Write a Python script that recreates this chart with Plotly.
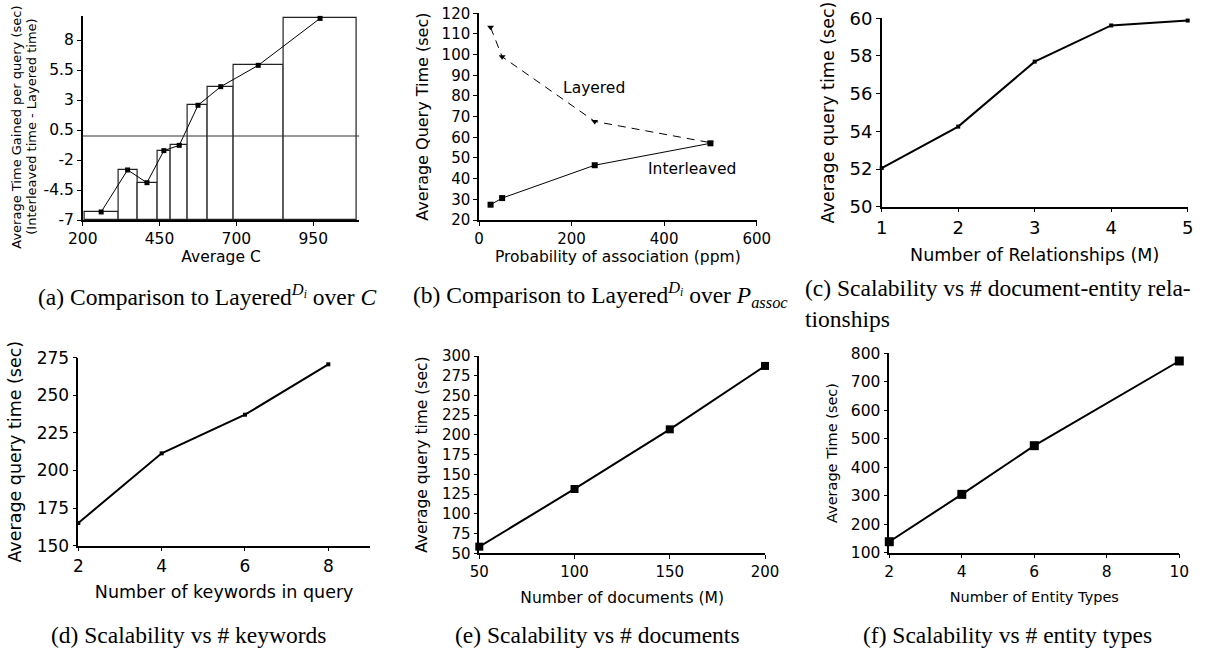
import plotly.graph_objects as go

W, H = 1208, 652

# ---------------- data ----------------
# (a) bins over Average C and time gained
a_edges = [205, 318, 378, 443, 486, 541, 607, 690, 854, 1090]
a_bar_vals = [-6.33, -2.83, -3.89, -1.22, -0.78, 2.56, 4.11, 5.89, 9.8]
a_pts_x = [260, 346, 409, 464, 514, 575, 649, 771, 972]
a_pts_y = [-6.33, -2.83, -3.89, -1.22, -0.78, 2.56, 4.11, 5.89, 9.8]
a_xticks = [200, 450, 700, 950]
a_yticks = [-7, -4.5, -2, 0.5, 3, 5.5, 8]
a_ytext = ["-7", "-4.5", "-2", "0.5", "3", "5.5", "8"]

# (b) probability of association
b_x = [25, 50, 250, 500]
b_layered = [113.2, 99.0, 67.7, 57.4]
b_interleaved = [27.4, 30.6, 46.5, 57.1]
b_xticks = [0, 200, 400, 600]
b_yticks = [20, 30, 40, 50, 60, 70, 80, 90, 100, 110, 120]

# (c) relationships
c_x = [1, 2, 3, 4, 5]
c_y = [52.05, 54.25, 57.7, 59.62, 59.88]
c_xticks = [1, 2, 3, 4, 5]
c_yticks = [50, 52, 54, 56, 58, 60]

# (d) keywords
d_x = [2, 4, 6, 8]
d_y = [165.1, 211.4, 237.1, 270.6]
d_xticks = [2, 4, 6, 8]
d_yticks = [150, 175, 200, 225, 250, 275]

# (e) documents
e_x = [50, 100, 150, 200]
e_y = [58.4, 131.5, 207.1, 287.4]
e_xticks = [50, 100, 150, 200]
e_yticks = [50, 75, 100, 125, 150, 175, 200, 225, 250, 275, 300]

# (f) entity types
f_x = [2, 4, 6, 10]
f_y = [138.6, 304.8, 475.7, 773.0]
f_xticks = [2, 4, 6, 8, 10]
f_yticks = [100, 200, 300, 400, 500, 600, 700, 800]

# ---------------- helpers ----------------
def dom_x(l, r):
    return [l / W, r / W]

def dom_y(b, t):
    return [1 - b / H, 1 - t / H]

SANS = "DejaVu Sans"
SERIF = "Liberation Serif"

fig = go.Figure()

# (a) bars
a_centers = [(a_edges[i] + a_edges[i + 1]) / 2 for i in range(len(a_bar_vals))]
a_widths = [a_edges[i + 1] - a_edges[i] for i in range(len(a_bar_vals))]
a_base = -7
fig.add_trace(go.Bar(
    x=a_centers, y=[v - a_base for v in a_bar_vals], base=a_base, width=a_widths,
    marker=dict(color="white", line=dict(color="#222222", width=1.2)),
    xaxis="x", yaxis="y", showlegend=False,
))
fig.add_trace(go.Scatter(
    x=a_pts_x, y=a_pts_y, mode="lines+markers",
    line=dict(color="black", width=1),
    marker=dict(symbol="square", size=5, color="black"),
    xaxis="x", yaxis="y", showlegend=False, cliponaxis=False,
))

# (b)
fig.add_trace(go.Scatter(
    x=b_x, y=b_layered, mode="lines+markers",
    line=dict(color="black", width=1, dash="8px,6px"),
    marker=dict(symbol="triangle-down", size=6, color="black"),
    xaxis="x2", yaxis="y2", showlegend=False, cliponaxis=False,
))
fig.add_trace(go.Scatter(
    x=b_x, y=b_interleaved, mode="lines+markers",
    line=dict(color="black", width=1),
    marker=dict(symbol="square", size=6, color="black"),
    xaxis="x2", yaxis="y2", showlegend=False, cliponaxis=False,
))

# (c)
fig.add_trace(go.Scatter(
    x=c_x, y=c_y, mode="lines+markers",
    line=dict(color="black", width=2),
    marker=dict(symbol="square", size=4, color="black"),
    xaxis="x3", yaxis="y3", showlegend=False, cliponaxis=False,
))
# (d)
fig.add_trace(go.Scatter(
    x=d_x, y=d_y, mode="lines+markers",
    line=dict(color="black", width=2),
    marker=dict(symbol="square", size=4, color="black"),
    xaxis="x4", yaxis="y4", showlegend=False, cliponaxis=False,
))
# (e)
fig.add_trace(go.Scatter(
    x=e_x, y=e_y, mode="lines+markers",
    line=dict(color="black", width=2),
    marker=dict(symbol="square", size=8, color="black"),
    xaxis="x5", yaxis="y5", showlegend=False, cliponaxis=False,
))
# (f)
fig.add_trace(go.Scatter(
    x=f_x, y=f_y, mode="lines+markers",
    line=dict(color="black", width=2),
    marker=dict(symbol="square", size=9, color="black"),
    xaxis="x6", yaxis="y6", showlegend=False, cliponaxis=False,
))


def axis(domain, rng, tickvals, anchor, tsize, title, tfsize, standoff, ticktext=None):
    d = dict(
        domain=domain, range=rng, tickvals=tickvals, anchor=anchor,
        showgrid=False, zeroline=False, showline=True, linecolor="black", linewidth=1.5,
        ticks="outside", ticklen=4, tickwidth=1, tickcolor="black",
        tickfont=dict(family=SANS, size=tsize, color="black"),
        title=dict(text=title, font=dict(family=SANS, size=tfsize, color="black"), standoff=standoff),
        fixedrange=True, automargin=False,
    )
    if ticktext is not None:
        d["tickmode"] = "array"
        d["ticktext"] = ticktext
    return d

layout = dict(
    width=W, height=H, margin=dict(l=0, r=0, t=0, b=0, pad=0), autosize=False,
    paper_bgcolor="white", plot_bgcolor="white",
    bargap=0, barmode="overlay",
)

# (a)
layout["xaxis"] = axis(dom_x(82.7, 359.4), [200, 1100], a_xticks, "y", 15.5, "Average C", 15.5, 3)
layout["yaxis"] = axis(dom_y(220, 16), [-7, 10], a_yticks, "x", 15.5, "", 13, 0, ticktext=a_ytext)
# (b)
layout["xaxis2"] = axis(dom_x(479, 756.7), [0, 600], b_xticks, "y2", 15, "Probability of association (ppm)", 15.5, 4)
layout["yaxis2"] = axis(dom_y(220, 13.3), [20, 120], b_yticks, "x2", 15, "Average Query Time (sec)", 16, 9)
# (c)
layout["xaxis3"] = axis(dom_x(881.7, 1187.7), [1, 5], c_xticks, "y3", 18, "Number of Relationships (M)", 17.5, 12)
layout["yaxis3"] = axis(dom_y(206.7, 18.3), [50, 60], c_yticks, "x3", 18, "Average query time (sec)", 17.5, 10)
# (d)
layout["xaxis4"] = axis(dom_x(78.3, 370), [2, 9], d_xticks, "y4", 17, "Number of keywords in query", 17.5, 11)
layout["yaxis4"] = axis(dom_y(545.7, 357.7), [150, 275], d_yticks, "x4", 17, "Average query time (sec)", 17.5, 11)
# (e)
layout["xaxis5"] = axis(dom_x(479.3, 765), [50, 200], e_xticks, "y5", 15, "Number of documents (M)", 15.5, 12)
layout["yaxis5"] = axis(dom_y(553.3, 356), [50, 300], e_yticks, "x5", 15, "Average query time (sec)", 15.5, 10)
# (f)
layout["xaxis6"] = axis(dom_x(889.3, 1179.3), [2, 10], f_xticks, "y6", 15.5, "Number of Entity Types", 14.5, 12)
layout["yaxis6"] = axis(dom_y(552.7, 353.3), [100, 800], f_yticks, "x6", 15.5, "Average Time (sec)", 14.5, 10)

fig.update_layout(**layout)

# zero reference line in (a)
fig.add_shape(type="line", xref="x", yref="y", x0=200, x1=1100, y0=0, y1=0,
              line=dict(color="#333333", width=1))

# (a) two-line y-axis title
for lx, txt in [(16.7, "Average Time Gained per query (sec)"),
                (31.7, "(Interleaved time - Layered time)")]:
    fig.add_annotation(x=lx / W, y=1 - 127 / H, xref="paper", yref="paper", text=txt,
                       textangle=-90, showarrow=False, xanchor="center", yanchor="middle",
                       font=dict(family=SANS, size=13, color="black"))

# in-plot labels (b)
fig.add_annotation(x=248, y=84, xref="x2", yref="y2", text="Layered", showarrow=False,
                   font=dict(family=SANS, size=15.5, color="black"))
fig.add_annotation(x=461, y=44.5, xref="x2", yref="y2", text="Interleaved", showarrow=False,
                   font=dict(family=SANS, size=15.5, color="black"))

# captions
caps = [
    (207, 295, "center", "(a) Comparison to Layered<sup><i>D<sub>i</sub></i></sup> over <i>C</i>"),
    (600, 295, "center", "(b) Comparison to Layered<sup><i>D<sub>i</sub></i></sup> over <i>P<sub>assoc</sub></i>"),
    (803, 303, "left", "(c) Scalability vs # document-entity rela-<br>tionships"),
    (188, 635, "center", "(d) Scalability vs # keywords"),
    (597, 635, "center", "(e) Scalability vs # documents"),
    (1007, 635, "center", "(f) Scalability vs # entity types"),
]
for cx, cy, anc, txt in caps:
    fig.add_annotation(x=cx / W, y=1 - cy / H, xref="paper", yref="paper", text=txt,
                       showarrow=False, xanchor=anc, yanchor="middle", align="left",
                       font=dict(family=SERIF, size=23.5, color="black"))

fig.write_html("out.html", config=dict(displayModeBar=False),
               post_script="document.body.style.margin='0px';document.body.style.overflow='hidden';")
